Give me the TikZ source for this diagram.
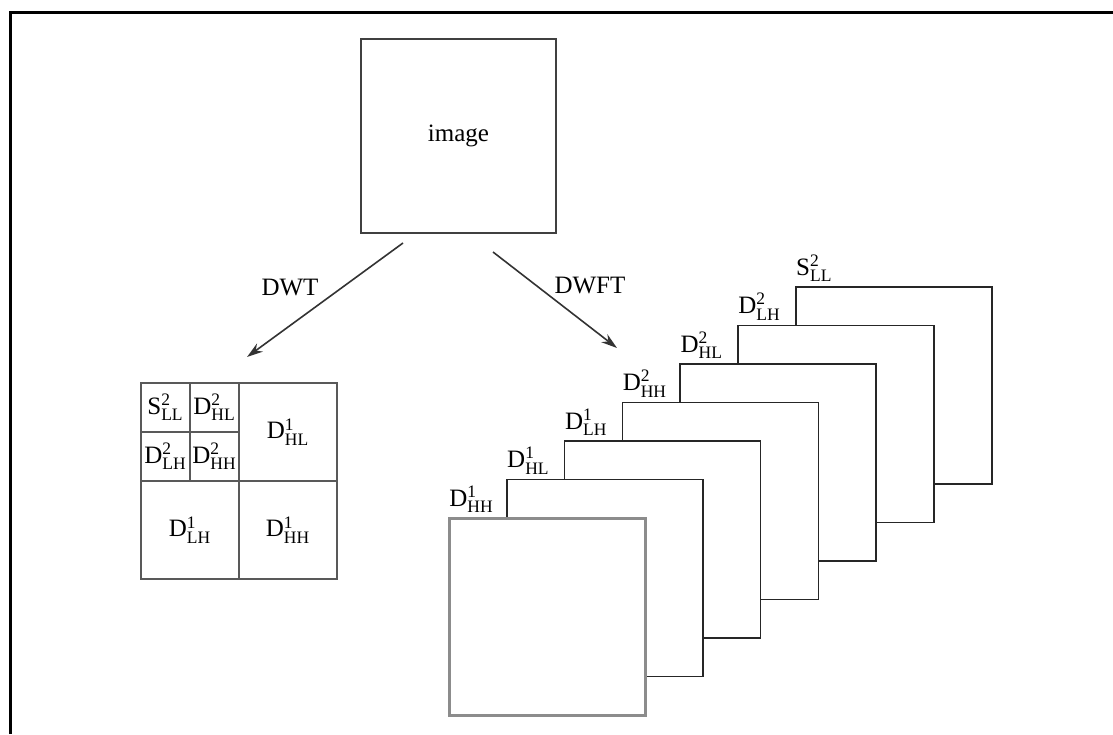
\documentclass[tikz,border=0pt]{standalone}
\usepackage{amsmath}
\usepackage{fontspec}
\setmainfont{Liberation Serif}
\usetikzlibrary{arrows.meta,positioning}

\begin{document}
\begin{tikzpicture}[
  x=0.5pt, y=-0.5pt,
  font=\fontsize{12.5}{14}\selectfont,
  frame/.style={line width=1.5pt, black},
  cell/.style={rectangle, draw=black!65, line width=1.2pt, inner sep=0pt, outer sep=0pt},
  small/.style={cell, minimum width=24.5pt, minimum height=24.5pt},
  big/.style={cell, minimum width=49pt, minimum height=49pt},
  layer/.style={rectangle, draw=black!85, line width=0.8pt, fill=white, minimum width=98pt, minimum height=98.5pt, inner sep=0pt, outer sep=0pt},
  lbl/.style={inner sep=0pt, anchor=south west},
  arr/.style={-{Stealth[length=8pt, width=5pt]}, line width=0.8pt, black!80}]
\useasboundingbox (0,0) rectangle (1113,734);
% frame, cut at right and bottom
\draw[frame] (10,734) -- (10,12) -- (1113,12);
\node[rectangle, draw=black!75, line width=1pt, minimum width=97.5pt, minimum height=97pt] (img) at (458.5,136) {image};
% arrows
\coordinate (dwt a) at (403,243);
\coordinate (dwt b) at (247,357);
\coordinate (dwft a) at (493,252);
\coordinate (dwft b) at (617,348);
\draw[arr] (dwt a) -- (dwt b);
\draw[arr] (dwft a) -- (dwft b);
\node (dwt) at (290,287) {DWT};
\node (dwft) at (590,285) {DWFT};
% DWT: decomposition grid
\node[small] (ll2) at (165.5,407.5) {S$^{\text{2}}_{\text{LL}}$};
\node[small, right=0pt of ll2] (hl2) {D$^{\text{2}}_{\text{HL}}$};
\node[small, below=0pt of ll2] (lh2) {D$^{\text{2}}_{\text{LH}}$};
\node[small, right=0pt of lh2] (hh2) {D$^{\text{2}}_{\text{HH}}$};
\node[big, anchor=north west] (hl1) at (hl2.north east) {D$^{\text{1}}_{\text{HL}}$};
\node[big, anchor=north west] (lh1) at (lh2.south west) {D$^{\text{1}}_{\text{LH}}$};
\node[big, right=0pt of lh1] (hh1) {D$^{\text{1}}_{\text{HH}}$};
% DWFT: stack of subbands, back to front
\foreach \i/\ch/\up/\lo in {6/S/2/LL, 5/D/2/LH, 4/D/2/HL, 3/D/2/HH, 2/D/1/LH, 1/D/1/HL} {
  \node[layer] (s\i) at ({547+57.8*\i},{616.5-38.5*\i}) {};
  \node[lbl] (t\i) at ([yshift=2.5pt]s\i.north west) {\ch$^{\text{\up}}_{\text{\lo}}$};
}
\node[layer, draw=black!45, line width=1.5pt] (s0) at (547,616.5) {};
\node[lbl] (t0) at ([yshift=2.5pt]s0.north west) {D$^{\text{1}}_{\text{HH}}$};
\end{tikzpicture}
\end{document}
